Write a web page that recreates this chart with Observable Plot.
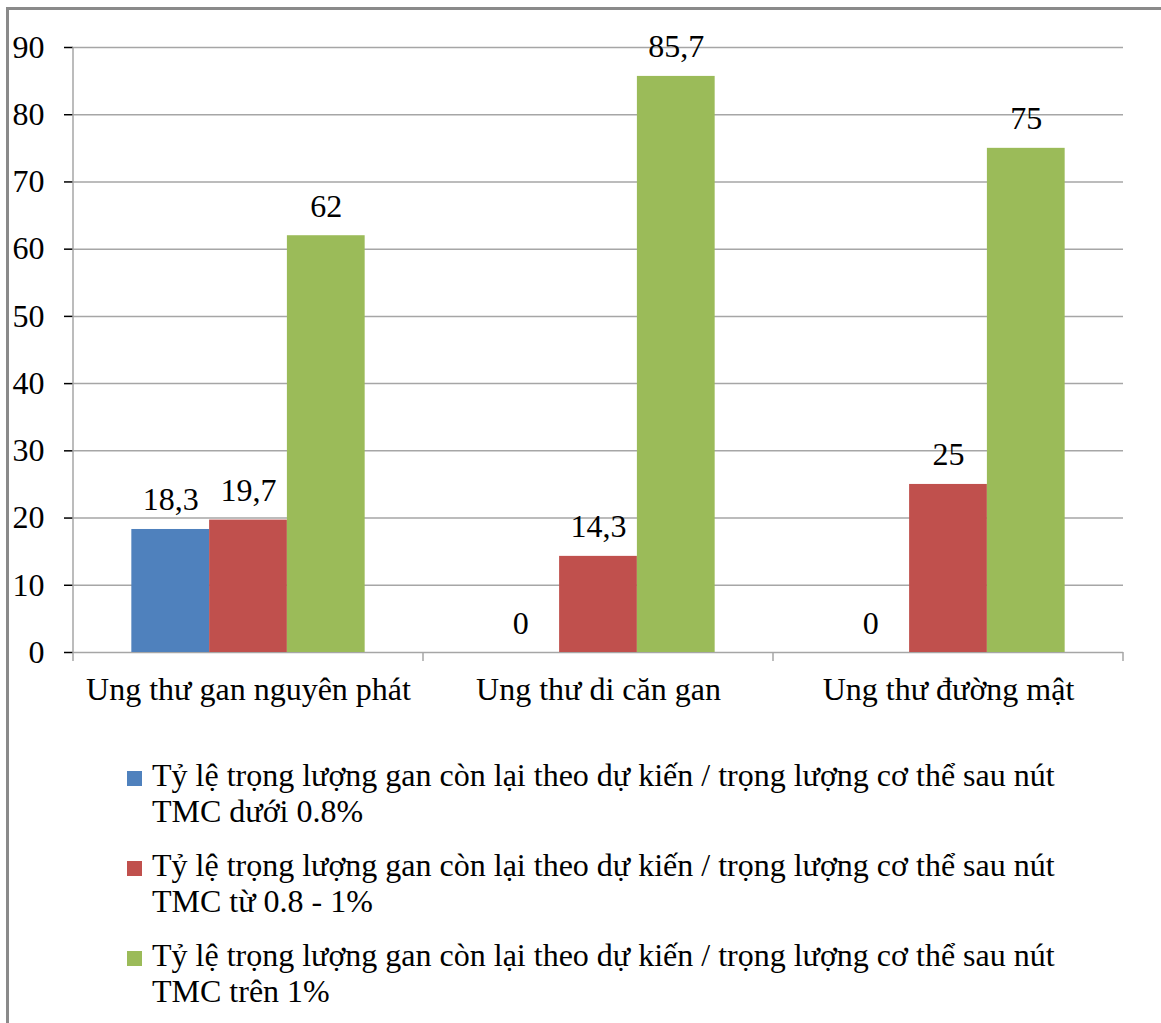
<!DOCTYPE html>
<html lang="vi">
<head>
<meta charset="utf-8">
<script src="https://cdn.jsdelivr.net/npm/d3@7"></script>
<script src="https://cdn.jsdelivr.net/npm/@observablehq/plot@0.6"></script>
<style>
  .wrap { position: relative; width: 1161px; height: 1023px; overflow: hidden; }
  .frame { position: absolute; left: 6px; top: 7px; width: 1300px; height: 1200px;
           border-top: 3px solid #8a8a8a; border-left: 3px solid #8a8a8a; }
  .chart { position: absolute; left: 0; top: 0; }
  .leg { position: absolute; left: 127px; width: 960px; font-size: 32px; line-height: 36px; }
  .sw { position: absolute; left: 0; top: 14px; width: 15px; height: 15px; }
  .tx { margin-left: 25px; }
</style>
</head>
<body style="margin:0;font-family:'Liberation Serif'">
<div class="wrap" style="font-family:'Liberation Serif'">
  <div class="frame"></div>
  <div class="chart" id="chart"></div>
  <div id="legend"></div>
</div>
<script>
const categories = ["Ung thư gan nguyên phát", "Ung thư di căn gan", "Ung thư đường mật"];
const seriesNames = [
  "Tỷ lệ trọng lượng gan còn lại theo dự kiến / trọng lượng cơ thể sau nút TMC dưới 0.8%",
  "Tỷ lệ trọng lượng gan còn lại theo dự kiến / trọng lượng cơ thể sau nút TMC từ 0.8 - 1%",
  "Tỷ lệ trọng lượng gan còn lại theo dự kiến / trọng lượng cơ thể sau nút TMC trên 1%"
];
const seriesColors = ["#4f81bd", "#c0504d", "#9bbb59"];
const valuesBelow08 = [18.3, 0, 0];
const values08to1 = [19.7, 14.3, 25];
const valuesAbove1 = [62, 85.7, 75];
const yTicks = [0, 10, 20, 30, 40, 50, 60, 70, 80, 90];

const seriesValues = [valuesBelow08, values08to1, valuesAbove1];
const data = categories.flatMap((c, i) =>
  seriesNames.map((s, j) => ({category: c, series: s, value: seriesValues[j][i]}))
);
const fmt = v => String(v).replace(".", ",");

const chart = Plot.plot({
  width: 1161,
  height: 730,
  marginLeft: 73,
  marginRight: 38,
  marginTop: 47,
  marginBottom: 78,
  style: {fontFamily: "'Liberation Serif'", fontSize: "32px", color: "black", background: "transparent"},
  fx: {domain: categories, padding: 0, round: false, label: null, axis: "bottom", tickSize: 0, tickPadding: 25},
  x: {domain: seriesNames, paddingInner: 0, paddingOuter: 0.75, round: false, axis: null},
  y: {domain: [0, 90], ticks: yTicks, tickSize: 9, tickPadding: 20, label: null, tickFormat: d => String(d)},
  color: {domain: seriesNames, range: seriesColors},
  marks: [
    Plot.ruleY(yTicks, {stroke: "#a6a6a6", strokeWidth: 1.5}),
    Plot.barY(data, {fx: "category", x: "series", y: "value", fill: "series"}),
    Plot.text(data, {fx: "category", x: "series", y: "value", text: d => fmt(d.value), dy: -19, lineAnchor: "bottom", fill: "black"})
  ]
});
document.getElementById("chart").appendChild(chart);

// axis decorations: y-axis line and category boundary ticks, via the plot's own scales
const fxS = chart.scale("fx");
const yS = chart.scale("y");
const svg = d3.select(chart);
svg.selectAll("text").attr("font-family", "Liberation Serif");
svg.selectAll('[aria-label="y-axis tick"]').attr("stroke", "#a6a6a6").attr("stroke-width", 1.5);
const y0 = yS.apply(0), yTop = yS.apply(90);
const g = svg.append("g").attr("stroke", "#a6a6a6").attr("stroke-width", 1.5);
const left0 = fxS.apply(categories[0]);
g.append("line").attr("x1", left0).attr("x2", left0).attr("y1", yTop).attr("y2", y0 + 9);
categories.forEach(c => {
  const xr = fxS.apply(c) + fxS.bandwidth;
  g.append("line").attr("x1", xr).attr("x2", xr).attr("y1", y0).attr("y2", y0 + 9);
});

// legend
const legend = document.getElementById("legend");
const legendTops = [757, 847, 937];
seriesNames.forEach((s, j) => {
  const item = document.createElement("div");
  item.className = "leg";
  item.style.top = legendTops[j] + "px";
  item.style.fontFamily = "'Liberation Serif'";
  item.innerHTML = `<div class="sw" style="background:${seriesColors[j]}"></div><div class="tx"></div>`;
  item.querySelector(".tx").textContent = s;
  legend.appendChild(item);
});
</script>
</body>
</html>
